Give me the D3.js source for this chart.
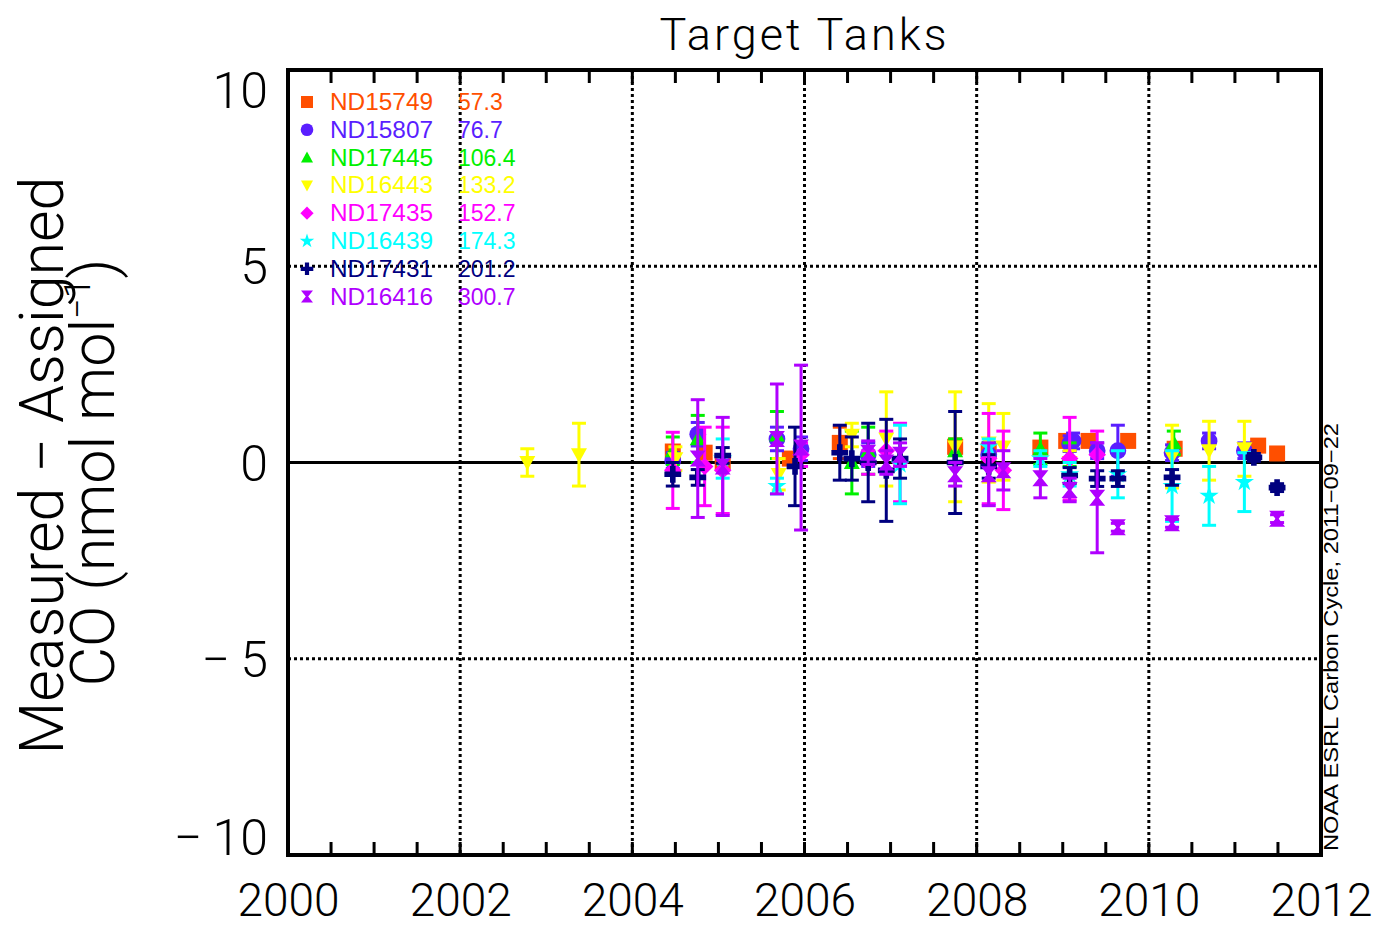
<!DOCTYPE html>
<html>
<head>
<meta charset="utf-8">
<script src="https://cdn.jsdelivr.net/npm/d3@7"></script>
<style>
  html, body { margin: 0; padding: 0; background: #fff; }
  svg { display: block; }
</style>
</head>
<body>
<svg id="chart" width="1382" height="930"></svg>
<script>
// Axis settings
const xTickYears = [2000, 2002, 2004, 2006, 2008, 2010, 2012];
const xGridYears = [2002, 2004, 2006, 2008, 2010];
const yTickValues = [10, 5, 0, -5, -10];
const yGridValues = [5, -5];

// Tank legend
const tankIds = ["ND15749", "ND15807", "ND17445", "ND16443", "ND17435", "ND16439", "ND17431", "ND16416"];
const tankAssigned = ["57.3", "76.7", "106.4", "133.2", "152.7", "174.3", "201.2", "300.7"];
const tankColors = ["#ff4f00", "#5a1eff", "#00f000", "#ffff00", "#ff00ff", "#00ffff", "#00007f", "#b000ff"];
const tankShapes = ["square", "circle", "triangle", "triangleDown", "diamond", "star", "plus", "hourglass"];

// Each point: [decimal year, measured − assigned, uncertainty]
const nd15749 = [[2004.47, 0.28, 0.15], [2004.84, 0.25, 0.15], [2005.05, 0.02, 0.1], [2005.83, 0.1, 0.1],
  [2006.41, 0.5, 0.4], [2007.75, 0.4, 0.2], [2008.14, 0.3, 0.15], [2008.74, 0.38, 0.15],
  [2009.04, 0.55, 0.1], [2009.30, 0.55, 0.1], [2009.76, 0.55, 0.1], [2010.30, 0.35, 0.1],
  [2011.27, 0.43, 0.1], [2011.49, 0.23, 0.1]];
const nd15807 = [[2004.47, 0.05, 0.2], [2004.76, 0.72, 0.3], [2005.68, 0.6, 0.3], [2005.96, 0.35, 0.3],
  [2006.74, 0.2, 0.3], [2008.14, 0.2, 0.3], [2009.08, 0.48, 0.2], [2009.12, 0.55, 0.2],
  [2009.40, 0.3, 0.2], [2009.64, 0.3, 0.65], [2010.27, 0.25, 0.2], [2010.70, 0.55, 0.2],
  [2011.11, 0.3, 0.2]];
const nd17445 = [[2004.47, 0.3, 0.35], [2004.76, 0.6, 0.6], [2005.68, 0.7, 0.6], [2006.55, 0.0, 0.8],
  [2006.74, 0.3, 0.6], [2007.75, 0.3, 0.3], [2008.14, 0.2, 0.3], [2008.74, 0.35, 0.4],
  [2009.08, 0.2, 0.3], [2010.29, 0.5, 0.3]];
const nd16443 = [[2002.78, 0.0, 0.35], [2003.38, 0.2, 0.8], [2004.50, 0.1, 0.3], [2005.70, -0.3, 0.4],
  [2006.55, 0.7, 0.3], [2006.95, 0.6, 1.2], [2007.75, 0.4, 1.4], [2008.14, 0.5, 1.0],
  [2008.31, 0.4, 0.85], [2009.08, 0.0, 0.3], [2010.27, 0.15, 0.8], [2010.70, 0.3, 0.75],
  [2011.11, 0.35, 0.7]];
const nd17435 = [[2004.47, -0.2, 0.97], [2004.84, -0.1, 1.0], [2005.05, -0.2, 1.1], [2005.96, 0.2, 0.3],
  [2006.74, 0.0, 0.3], [2006.95, 0.3, 0.5], [2007.11, 0.0, 1.0], [2008.14, 0.1, 1.15],
  [2008.31, -0.2, 1.0], [2009.08, 0.1, 1.05], [2009.40, 0.2, 0.6]];
const nd16439 = [[2005.05, 0.1, 0.5], [2005.68, -0.6, 0.2], [2007.11, -0.05, 1.0], [2008.14, 0.4, 0.2],
  [2008.74, 0.1, 0.2], [2009.08, -0.3, 0.3], [2009.64, -0.3, 0.6], [2010.27, -0.6, 0.9],
  [2010.70, -0.85, 0.75], [2011.11, -0.5, 0.75]];
const nd17431 = [[2004.47, -0.3, 0.3], [2004.76, -0.38, 0.2], [2005.05, 0.18, 0.2], [2005.89, -0.1, 1.0],
  [2006.41, 0.25, 0.7], [2006.55, 0.1, 0.55], [2006.74, 0.0, 1.0], [2006.95, -0.2, 1.3],
  [2007.11, 0.1, 0.5], [2007.75, 0.0, 1.3], [2008.14, -0.1, 0.3], [2009.08, -0.33, 0.2],
  [2009.40, -0.41, 0.2], [2009.64, -0.41, 0.2], [2010.27, -0.38, 0.2], [2011.22, 0.13, 0.1],
  [2011.49, -0.64, 0.1]];
const nd16416 = [[2004.76, 0.1, 1.5], [2005.05, -0.1, 1.25], [2005.68, 0.6, 1.4], [2005.96, 0.38, 2.1],
  [2006.74, 0.25, 0.3], [2006.95, 0.0, 0.3], [2007.11, 0.2, 0.3], [2007.75, -0.3, 0.3],
  [2008.14, -0.3, 0.8], [2008.31, -0.2, 0.5], [2008.74, -0.4, 0.5], [2009.08, -0.7, 0.3],
  [2009.40, -0.9, 1.4], [2009.64, -1.65, 0.1], [2010.27, -1.55, 0.1], [2011.49, -1.43, 0.1]];

const tankData = [nd15749, nd15807, nd17445, nd16443, nd17435, nd16439, nd17431, nd16416];

const svg = d3.select("#chart");
const plot = { left: 288, right: 1321, top: 70, bottom: 855 };

const x = d3.scaleLinear().domain([2000, 2012]).range([plot.left, plot.right]);
const y = d3.scaleLinear().domain([-10, 10]).range([plot.bottom, plot.top]);

const labelFont = "Roboto, 'Liberation Sans', sans-serif";

// Title
svg.append("text")
  .attr("x", (plot.left + plot.right) / 2)
  .attr("y", 50)
  .attr("text-anchor", "middle")
  .attr("font-family", labelFont)
  .attr("font-weight", 300)
  .attr("font-size", 45)
  .attr("letter-spacing", 3)
  .attr("fill", "#000")
  .text("Target Tanks");

// Dotted grid lines
const grid = svg.append("g").attr("stroke", "#000").attr("stroke-width", 3).attr("stroke-dasharray", "3,3");
grid.selectAll("line.gx").data(xGridYears).join("line")
  .attr("x1", d => x(d)).attr("x2", d => x(d))
  .attr("y1", plot.top).attr("y2", plot.bottom);
grid.selectAll("line.gy").data(yGridValues).join("line")
  .attr("x1", plot.left).attr("x2", plot.right)
  .attr("y1", d => y(d)).attr("y2", d => y(d));

// Zero line
svg.append("line")
  .attr("x1", plot.left).attr("x2", plot.right)
  .attr("y1", y(0)).attr("y2", y(0))
  .attr("stroke", "#000").attr("stroke-width", 3);

// Half-year ticks along top and bottom edges
const halfYears = d3.range(2000.5, 2012, 0.5);
const ticks = svg.append("g").attr("stroke", "#000").attr("stroke-width", 3);
ticks.selectAll("line.tb").data(halfYears).join("line")
  .attr("x1", d => x(d)).attr("x2", d => x(d))
  .attr("y1", plot.bottom).attr("y2", plot.bottom - 13);
ticks.selectAll("line.tt").data(halfYears).join("line")
  .attr("x1", d => x(d)).attr("x2", d => x(d))
  .attr("y1", plot.top).attr("y2", plot.top + 13);

// Axis labels via d3 axes
const xAxis = d3.axisBottom(x).tickValues(xTickYears).tickFormat(d3.format("d")).tickSize(0).tickPadding(0);
const gx = svg.append("g").attr("transform", `translate(0,${plot.bottom + 61})`).call(xAxis);
gx.select(".domain").remove();
gx.selectAll("text").attr("font-family", labelFont).attr("font-weight", 300)
  .attr("font-size", 46).attr("fill", "#000").attr("dy", 0);

const yAxis = d3.axisLeft(y).tickValues(yTickValues)
  .tickFormat(d => d < 0 ? "\u2212\u2009" + Math.abs(d) : String(d)).tickSize(0).tickPadding(0);
const gy = svg.append("g").attr("transform", `translate(${plot.left - 20},0)`).call(yAxis);
gy.select(".domain").remove();
// end labels sit just inside the frame
gy.selectAll(".tick").attr("transform", d => `translate(0,${Math.min(Math.max(y(d), plot.top + 20), plot.bottom - 18)})`);
gy.selectAll("text").attr("font-family", labelFont).attr("font-weight", 300)
  .attr("font-size", 50).attr("fill", "#000").attr("dy", "0.36em");

// Y axis title (two lines)
const yTitle = svg.append("g").attr("font-family", labelFont).attr("font-weight", 300)
  .attr("font-size", 61).attr("fill", "#000").attr("text-anchor", "middle");
yTitle.append("text")
  .attr("transform", `translate(63,${y(0) + 3}) rotate(-90)`)
  .text("Measured \u2212 Assigned");
const t2 = yTitle.append("text")
  .attr("transform", `translate(114,${y(0) + 10}) rotate(-90)`);
t2.append("tspan").text("CO (nmol mol");
t2.append("tspan").attr("font-size", 36).attr("dy", -24).text("\u22121");
t2.append("tspan").attr("dy", 24).text(")");

// Credit line on the right
svg.append("text")
  .attr("transform", `translate(1338,${plot.bottom - 4}) rotate(-90)`)
  .attr("font-family", "'Liberation Sans', Arial, sans-serif")
  .attr("font-size", 20)
  .attr("textLength", 428)
  .attr("lengthAdjust", "spacingAndGlyphs")
  .attr("fill", "#000")
  .text("NOAA ESRL Carbon Cycle, 2011\u221209\u221222");

// Marker shapes
function markerPath(shape, s) {
  switch (shape) {
    case "square": return `M${-s},${-s}H${s}V${s}H${-s}Z`;
    case "circle": return d3.symbol(d3.symbolCircle, Math.PI * s * s * 1.1)();
    case "triangle": return `M0,${-s}L${s},${s * 0.8}L${-s},${s * 0.8}Z`;
    case "triangleDown": return `M0,${s}L${s},${-s * 0.8}L${-s},${-s * 0.8}Z`;
    case "diamond": return `M0,${-s * 1.1}L${s * 1.1},0L0,${s * 1.1}L${-s * 1.1},0Z`;
    case "star": return d3.symbol(d3.symbolStar, s * s * 1.8)();
    case "plus": {
      const a = s * 1.05, b = s * 0.35;
      return `M${-b},${-a}H${b}V${-b}H${a}V${b}H${b}V${a}H${-b}V${b}H${-a}V${-b}H${-b}Z`;
    }
    case "hourglass": return `M${-s},${-s}H${s}L${s * 0.2},0L${s},${s}H${-s}L${-s * 0.2},0Z`;
  }
}

// Error bars and markers
const series = svg.append("g");
tankData.forEach((pts, i) => {
  const g = series.append("g").attr("fill", tankColors[i]).attr("stroke", tankColors[i]);
  g.selectAll("line.bar").data(pts).join("line")
    .attr("x1", d => x(d[0])).attr("x2", d => x(d[0]))
    .attr("y1", d => y(d[1] + d[2])).attr("y2", d => y(d[1] - d[2]))
    .attr("stroke-width", 3);
  g.selectAll("line.capTop").data(pts).join("line")
    .attr("x1", d => x(d[0]) - 7).attr("x2", d => x(d[0]) + 7)
    .attr("y1", d => y(d[1] + d[2])).attr("y2", d => y(d[1] + d[2]))
    .attr("stroke-width", 3);
  g.selectAll("line.capBot").data(pts).join("line")
    .attr("x1", d => x(d[0]) - 7).attr("x2", d => x(d[0]) + 7)
    .attr("y1", d => y(d[1] - d[2])).attr("y2", d => y(d[1] - d[2]))
    .attr("stroke-width", 3);
  g.selectAll("path.mk").data(pts).join("path")
    .attr("transform", d => `translate(${x(d[0])},${y(d[1])})`)
    .attr("d", markerPath(tankShapes[i], 8))
    .attr("stroke", "none");
});

// Plot frame
svg.append("rect")
  .attr("x", plot.left).attr("y", plot.top)
  .attr("width", plot.right - plot.left).attr("height", plot.bottom - plot.top)
  .attr("fill", "none").attr("stroke", "#000").attr("stroke-width", 4);

// Legend
const legend = svg.append("g").attr("font-family", "'Liberation Sans', Arial, sans-serif").attr("font-size", 23);
const legendRows = legend.selectAll("g").data(tankIds).join("g")
  .attr("transform", (d, i) => `translate(0,${102 + i * 27.8})`);
legendRows.append("path")
  .attr("transform", "translate(307,0)")
  .attr("d", (d, i) => markerPath(tankShapes[i], 6))
  .attr("fill", (d, i) => tankColors[i]);
legendRows.append("text")
  .attr("x", 330).attr("y", 8)
  .attr("textLength", 103).attr("lengthAdjust", "spacingAndGlyphs")
  .attr("fill", (d, i) => tankColors[i])
  .text(d => d);
legendRows.append("text")
  .attr("x", 458).attr("y", 8)
  .attr("fill", (d, i) => tankColors[i])
  .text((d, i) => tankAssigned[i]);
</script>
</body>
</html>
